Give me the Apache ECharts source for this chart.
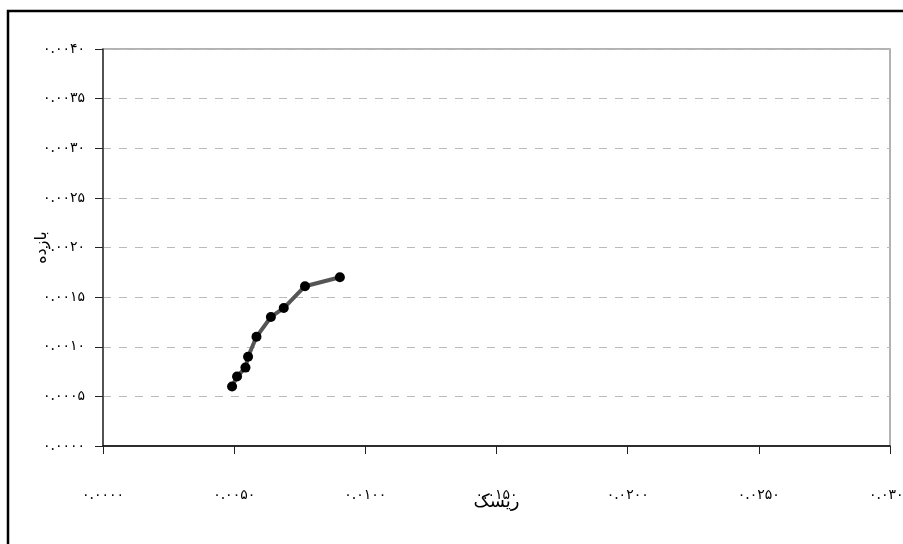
<!DOCTYPE html>
<html>
<head>
<meta charset="utf-8">
<script src="https://cdn.jsdelivr.net/npm/echarts@6/dist/echarts.min.js"></script>
<style>
html,body{margin:0;padding:0;background:#fff;}
#c{width:903px;height:544px;}
</style>
</head>
<body>
<div id="c"></div>
<script>
// Data (risk, return)
var riskValues   = [0.00492, 0.00511, 0.00543, 0.00553, 0.00585, 0.00640, 0.00689, 0.00770, 0.00903];
var returnValues = [0.00060, 0.00070, 0.00079, 0.00090, 0.00110, 0.00130, 0.00139, 0.00161, 0.00170];
var xTickLabels = ['۰.۰۰۰۰','۰.۰۰۵۰','۰.۰۱۰۰','۰.۰۱۵۰','۰.۰۲۰۰','۰.۰۲۵۰','۰.۰۳۰۰'];
var yTickLabels = ['۰.۰۰۰۰','۰.۰۰۰۵','۰.۰۰۱۰','۰.۰۰۱۵','۰.۰۰۲۰','۰.۰۰۲۵','۰.۰۰۳۰','۰.۰۰۳۵','۰.۰۰۴۰'];
var xAxisTitle = 'ریسک';
var yAxisTitle = 'بازده';

var points = riskValues.map(function(v,i){ return [v, returnValues[i]]; });
var FONT = 'DejaVu Serif, DejaVu Sans, serif';

var chart = echarts.init(document.getElementById('c'), null, {renderer:'canvas'});
chart.setOption({
  animation:false,
  backgroundColor:'#fff',
  grid:{left:103, top:49, right:13, bottom:98, outerBoundsMode:'none', containLabel:false,
        show:true, borderColor:'#999', borderWidth:1.5, backgroundColor:'transparent'},
  graphic:[{type:'rect', shape:{x:8, y:11, width:1000, height:1000}, style:{fill:null, stroke:'#000', lineWidth:2.5}, z:-1, silent:true}],
  xAxis:{
    type:'value', min:0, max:0.03, interval:0.005,
    name:xAxisTitle, nameLocation:'middle', nameGap:47, nameMoveOverlap:false,
    nameTextStyle:{fontFamily:FONT, fontSize:18, color:'#000', backgroundColor:'#fff', padding:[0,0,0,0]},
    axisLine:{show:true, onZero:false, lineStyle:{color:'#000', width:1.5}},
    axisTick:{show:true, inside:false, length:8, lineStyle:{color:'#222'}},
    axisLabel:{margin:42, fontFamily:FONT, fontSize:14, color:'#000',
      formatter:function(v){ return xTickLabels[Math.round(v/0.005)]; }},
    splitLine:{show:false}
  },
  yAxis:{
    type:'value', min:0, max:0.004, interval:0.0005,
    name:yAxisTitle, nameLocation:'middle', nameGap:53, nameRotate:90, nameMoveOverlap:false,
    nameTextStyle:{fontFamily:FONT, fontSize:16, color:'#000'},
    axisLine:{show:true, onZero:false, lineStyle:{color:'#333', width:1.5}},
    axisTick:{show:true, length:8, lineStyle:{color:'#222'}},
    axisLabel:{margin:18, fontFamily:FONT, fontSize:14, color:'#000',
      formatter:function(v){ return yTickLabels[Math.round(v/0.0005)]; }},
    splitLine:{show:true, lineStyle:{color:'#bbb', type:[8,8], width:1}}
  },
  series:[{
    type:'line', data:points, symbol:'circle', symbolSize:10,
    itemStyle:{color:'#000'},
    lineStyle:{color:'#555', width:4}
  }]
});
</script>
</body>
</html>
